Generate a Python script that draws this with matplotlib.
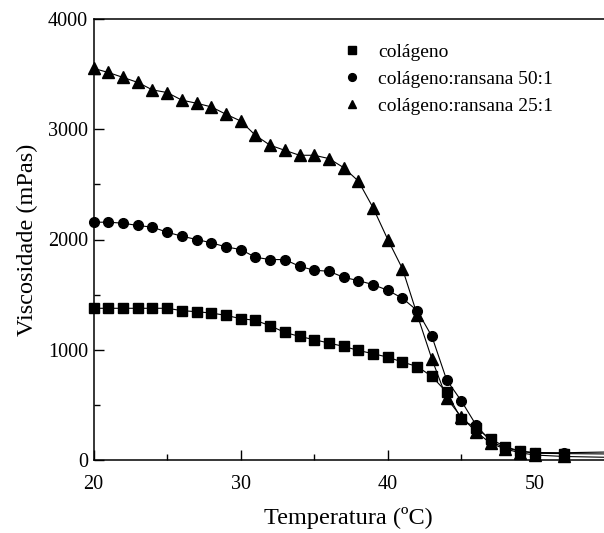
import numpy as np
import matplotlib
matplotlib.use("Agg")
import matplotlib.pyplot as plt
from matplotlib.ticker import MultipleLocator

plt.rcParams['font.family'] = ['Liberation Serif', 'DejaVu Serif']

# temperatures (ºC) of the measured points
temps = list(range(20, 51)) + [52]

colageno = [1376, 1376, 1376, 1376, 1376, 1376, 1355, 1345, 1333, 1312,
            1282, 1267, 1218, 1157, 1121, 1091, 1061, 1030, 994, 964,
            933, 888, 848, 758, 615, 370, 290, 188, 121, 80, 61, 58]
ransana_50 = [2157, 2157, 2148, 2127, 2112, 2066, 2030, 2000, 1970, 1933,
              1909, 1839, 1818, 1818, 1757, 1721, 1712, 1657, 1627, 1591,
              1539, 1467, 1355, 1121, 727, 536, 318, 167, 110, 80, 68, 66]
ransana_25 = [3552, 3515, 3470, 3425, 3357, 3333, 3264, 3236, 3203, 3136,
              3075, 2945, 2855, 2809, 2764, 2764, 2734, 2652, 2530, 2288,
              2000, 1734, 1318, 915, 561, 390, 257, 150, 100, 65, 45, 32]

# where the fitted curves leave the frame on the right
tail_temp = 54.7
tail_vals = [55, 72, 25]

labels = ['colágeno', 'colágeno:ransana 50:1', 'colágeno:ransana 25:1']
markers = ['s', 'o', '^']
msizes = [6.5, 7.0, 8.0]

fig = plt.figure(figsize=(6.04, 5.33), dpi=100)
ax = fig.add_axes([93.6 / 604, 1 - 460 / 533, 1 - 93.6 / 604, (460 - 19) / 533])

series = [colageno, ransana_50, ransana_25]
for vals, tail, lab, mk, ms in zip(series, tail_vals, labels, markers, msizes):
    ax.plot(temps + [tail_temp], vals + [tail], color='black', lw=0.8, zorder=2)
    ax.plot(temps, vals, ls='none', marker=mk, ms=ms, color='black',
            mec='black', label=lab, zorder=3, clip_on=False)

ax.set_xlim(20, tail_temp)
ax.set_ylim(0, 4000)
ax.xaxis.set_major_locator(MultipleLocator(10))
ax.xaxis.set_minor_locator(MultipleLocator(5))
ax.yaxis.set_major_locator(MultipleLocator(1000))
ax.yaxis.set_minor_locator(MultipleLocator(500))
ax.tick_params(which='both', direction='in', top=False, right=False,
               labelsize=14.5, width=1)
ax.tick_params(which='major', length=7)
ax.tick_params(which='minor', length=4)
ax.tick_params(axis='x', pad=11)
ax.tick_params(axis='y', pad=4)

ax.spines['right'].set_visible(False)
for s in ['left', 'bottom', 'top']:
    ax.spines[s].set_linewidth(1.1)

ax.set_xlabel('Temperatura (ºC)', fontsize=17.5, labelpad=9)
ax.set_ylabel('Viscosidade (mPas)', fontsize=17.5, labelpad=7)

leg = ax.legend(loc='upper left', bbox_to_anchor=(342 / 604, 1 - 43 / 533),
                bbox_transform=fig.transFigure, frameon=False, fontsize=14,
                handlelength=1.0, handletextpad=0.85, labelspacing=0.5,
                borderpad=0, borderaxespad=0, markerscale=0.8)

fig.savefig('out.png', dpi=100)
